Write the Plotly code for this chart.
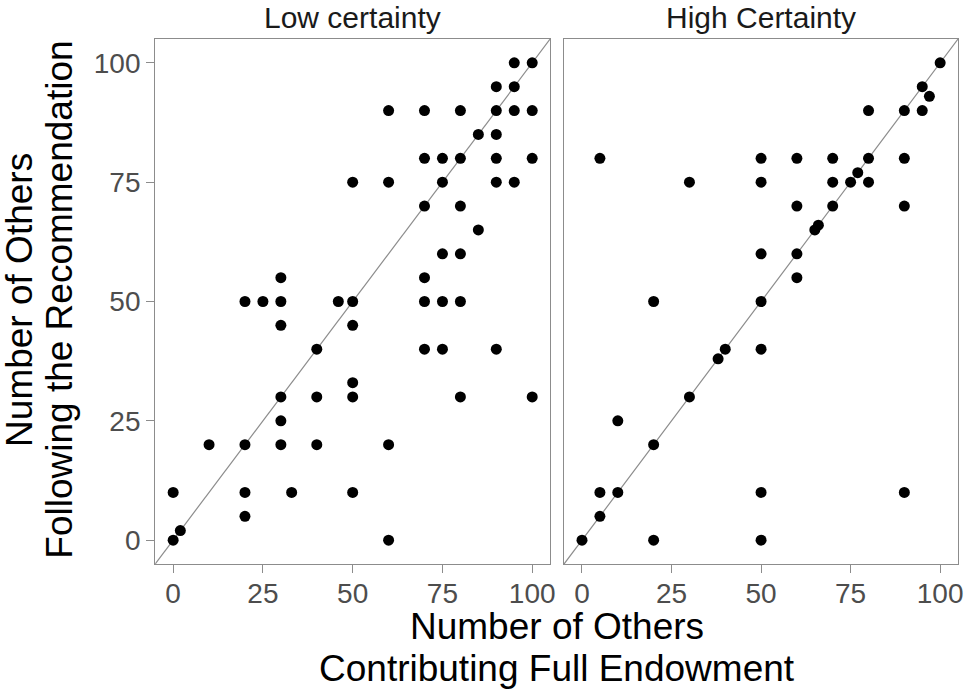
import plotly.graph_objects as go

# Low certainty panel: (others contributing full endowment, others following recommendation)
low_x = [0, 0, 2, 10, 20, 20, 20, 20, 25, 30, 30, 30, 30, 30, 30, 33, 40, 40, 40, 46,
         50, 50, 50, 50, 50, 50, 60, 60, 60, 60, 70, 70, 70, 70, 70, 70, 75, 75, 75, 75,
         75, 80, 80, 80, 80, 80, 80, 85, 85, 90, 90, 90, 90, 90, 90, 95, 95, 95, 95,
         100, 100, 100, 100]
low_y = [0, 10, 2, 20, 5, 10, 20, 50, 50, 20, 25, 30, 45, 50, 55, 10, 20, 30, 40, 50,
         10, 30, 33, 45, 50, 75, 0, 20, 75, 90, 40, 50, 55, 70, 80, 90, 40, 50, 60, 75,
         80, 30, 50, 60, 70, 80, 90, 65, 85, 40, 75, 80, 85, 90, 95, 75, 90, 95, 100,
         30, 80, 90, 100]

# High certainty panel
high_x = [0, 5, 5, 5, 10, 10, 20, 20, 20, 30, 30, 38, 40, 50, 50, 50, 50, 50, 50, 50,
          60, 60, 60, 60, 65, 66, 70, 70, 70, 75, 77, 80, 80, 80, 90, 90, 90, 90, 95,
          95, 97, 100]
high_y = [0, 5, 10, 80, 10, 25, 0, 20, 50, 30, 75, 38, 40, 0, 10, 40, 50, 60, 75, 80,
          55, 60, 70, 80, 65, 66, 70, 75, 80, 75, 77, 75, 80, 90, 10, 70, 80, 90, 90,
          95, 93, 100]

panel_titles = ["Low certainty", "High Certainty"]
tick_vals = [0, 25, 50, 75, 100]
axis_range = [-5, 105]

W, H = 974, 695
FONT = "Liberation Sans, Arial, sans-serif"
BORDER = "#8c8c8c"

fig = go.Figure()

for i, (xs, ys) in enumerate([(low_x, low_y), (high_x, high_y)]):
    suffix = "" if i == 0 else str(i + 1)
    fig.add_trace(go.Scatter(
        x=xs, y=ys, mode="markers", xaxis="x" + suffix, yaxis="y" + suffix,
        marker=dict(color="black", size=11), showlegend=False,
    ))
    # y = x reference line across the panel
    fig.add_shape(type="line", xref="x" + suffix, yref="y" + suffix,
                  x0=axis_range[0], y0=axis_range[0], x1=axis_range[1], y1=axis_range[1],
                  line=dict(color="#8c8c8c", width=1.2), layer="below")

y_dom = [(H - 564) / H, (H - 39) / H]
x_doms = [[156 / W, 553 / W], [567 / W, 963 / W]]

axis_common = dict(
    range=axis_range, tickvals=tick_vals, showgrid=False, zeroline=False,
    showline=True, linecolor=BORDER, linewidth=1.2, mirror=True,
    ticks="outside", ticklen=8, tickcolor=BORDER, tickwidth=1.2,
    tickfont=dict(family=FONT, size=28, color="#4d4d4d"),
)
x_axis = {**axis_common, "ticklabelstandoff": -4}

fig.update_layout(
    width=W, height=H,
    margin=dict(l=0, r=0, t=0, b=0),
    plot_bgcolor="white", paper_bgcolor="white",
    xaxis=dict(domain=x_doms[0], anchor="y", **x_axis),
    yaxis=dict(domain=y_dom, anchor="x", **axis_common),
    xaxis2=dict(domain=x_doms[1], anchor="y2", **x_axis),
    yaxis2=dict(domain=y_dom, anchor="x2", **{**axis_common, "ticks": "", "showticklabels": False}),
)

annotations = []
for dom, title in zip(x_doms, panel_titles):
    annotations.append(dict(
        text=title, xref="paper", yref="paper", x=(dom[0] + dom[1]) / 2, y=(H - 17) / H,
        xanchor="center", yanchor="middle", showarrow=False,
        font=dict(family=FONT, size=30, color="#1a1a1a"),
    ))

title_font = dict(family=FONT, size=37, color="black")
x_mid = (x_doms[0][0] + x_doms[1][1]) / 2
for text, ypix in [("Number of Others", 626), ("Contributing Full Endowment", 668)]:
    annotations.append(dict(
        text=text, xref="paper", yref="paper", x=x_mid, y=(H - ypix) / H,
        xanchor="center", yanchor="middle", showarrow=False, font=title_font,
    ))
for text, xpix in [("Number of Others", 19), ("Following the Recommendation", 59)]:
    annotations.append(dict(
        text=text, xref="paper", yref="paper", x=xpix / W, y=(H - 300) / H,
        xanchor="center", yanchor="middle", showarrow=False, textangle=-90, font=title_font,
    ))

fig.update_layout(annotations=annotations)

# the page body has a default margin; drop it so the figure fills the window
fig.write_html("out.html", config={"displayModeBar": False},
               post_script="document.body.style.margin='0';")
